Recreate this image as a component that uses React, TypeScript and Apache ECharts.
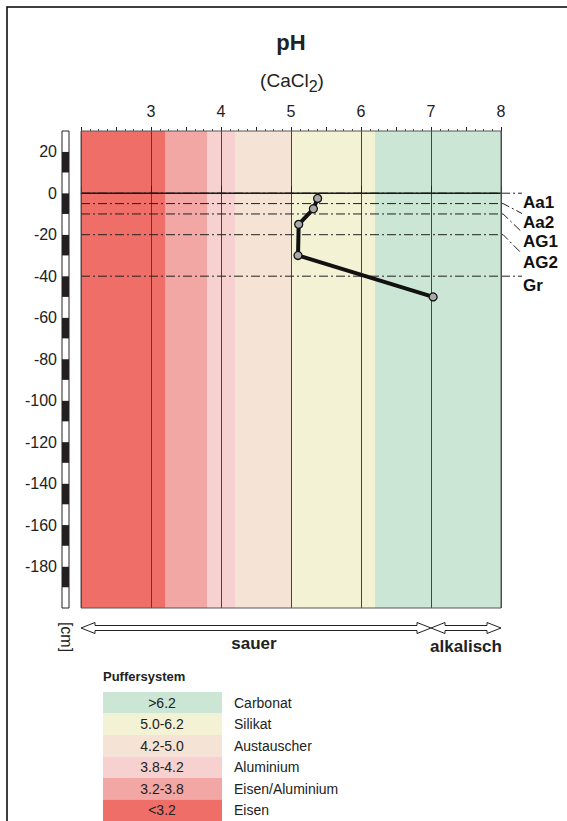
import React, { useEffect, useRef } from "react";
import * as echarts from "echarts";

// pH buffer ranges (Puffersystem)
const bandLo = [2, 3.2, 3.8, 4.2, 5.0, 6.2];
const bandHi = [3.2, 3.8, 4.2, 5.0, 6.2, 8];
const bandRanges = ["<3.2", "3.2-3.8", "3.8-4.2", "4.2-5.0", "5.0-6.2", ">6.2"];
const bandNames = ["Eisen", "Eisen/Aluminium", "Aluminium", "Austauscher", "Silikat", "Carbonat"];
const bandColors = ["#EF6F68", "#F3A7A4", "#F6D1D0", "#F5E4D6", "#F3F2D5", "#CBE6D5"];

// horizons: name, upper boundary depth, label anchor depth
const horizonNames = ["Aa1", "Aa2", "AG1", "AG2", "Gr"];
const horizonTop = [0, -5, -10, -20, -40];
const horizonLabelDepth = [0, -9.8, -18.8, -29.2, -40];

// measured pH profile
const sampleDepth = [-2.5, -7.5, -15, -30, -50];
const samplePH = [5.38, 5.32, 5.11, 5.1, 7.03];

const xTicks = [3, 4, 5, 6, 7, 8];
const FONT = "'Liberation Sans', Arial, Helvetica, sans-serif";

function measure(text: string, size: number): number {
  const c = document.createElement("canvas").getContext("2d");
  if (!c) return text.length * size * 0.55;
  c.font = `${size}px ${FONT}`;
  return c.measureText(text).width;
}

export default function App() {
  const ref = useRef<HTMLDivElement>(null);
  useEffect(() => {
    if (!ref.current) return;
    const chart = echarts.init(ref.current, null, { renderer: "svg" });
    const yMin = -200, yMax = 30, xMin = 2, xMax = 8, xOut = 8.3, xBend = 8.03;

    const dashDot = [9, 3, 2, 3];
    const horizonSeries: any[] = horizonNames.map((n, i) => ({
      type: "line",
      name: "h" + n,
      data: [[xMin, horizonTop[i]], [xMax, horizonTop[i]]],
      symbol: "none",
      z: 4,
      silent: true,
      lineStyle: { color: "#222", width: 1, type: dashDot },
    }));

    chart.setOption({
      animation: false,
      textStyle: { fontFamily: FONT },
      grid: [
        { left: 81, width: 420, top: 131, height: 477, show: true, z: 5, backgroundColor: "transparent", borderColor: "#555", borderWidth: 1 },
        { left: 62, width: 7, top: 131, height: 477, show: true, z: 5, backgroundColor: "transparent", borderColor: "#222", borderWidth: 1 },
      ],
      xAxis: [
        {
          type: "value", gridIndex: 0, position: "top", min: xMin, max: xMax, interval: 1, z: 3,
          axisLine: { show: true, lineStyle: { color: "#444", width: 1 } },
          axisTick: { show: true, length: 7, lineStyle: { color: "#222" } },
          axisLabel: {
            margin: 12, fontSize: 16, color: "#222", fontFamily: FONT,
            formatter: (v: number) => (xTicks.indexOf(v) >= 0 ? String(v) : ""),
          },
          splitLine: { show: true, lineStyle: { color: "#444", width: 1 } },
        },
        {
          type: "value", gridIndex: 0, position: "top", min: xMin, max: xMax, interval: 0.5, z: 3,
          axisLine: { show: false },
          axisTick: { show: true, length: 4, lineStyle: { color: "#222" } },
          minorTick: { show: true, splitNumber: 4, length: 2, lineStyle: { color: "#444" } },
          axisLabel: { show: false },
          splitLine: { show: false },
        },
        { type: "value", gridIndex: 1, min: 0, max: 1, show: false },
      ],
      yAxis: [
        {
          type: "value", gridIndex: 0, min: yMin, max: yMax, interval: 20, z: 3,
          axisLine: { show: false }, axisTick: { show: false }, splitLine: { show: false },
          axisLabel: {
            margin: 24, fontSize: 16, color: "#222", fontFamily: FONT,
            formatter: (v: number) => (v > yMin && v <= 20 ? String(v) : ""),
          },
        },
        {
          type: "value", gridIndex: 1, min: yMin, max: yMax, interval: 10,
          axisLine: { show: false }, axisTick: { show: false }, axisLabel: { show: false },
          splitLine: { show: false },
          splitArea: { show: true, areaStyle: { color: ["#ffffff", "#231F20"] } },
        },
      ],
      series: [
        {
          type: "custom",
          xAxisIndex: 0, yAxisIndex: 0, z: 1, silent: true,
          data: bandLo.map((lo, i) => [lo, bandHi[i], i]),
          encode: { x: [0, 1] },
          renderItem: (params: any, api: any) => {
            const p1 = api.coord([api.value(0), yMax]);
            const p2 = api.coord([api.value(1), yMin]);
            return {
              type: "rect",
              shape: { x: p1[0], y: p1[1], width: p2[0] - p1[0], height: p2[1] - p1[1] },
              style: { fill: bandColors[api.value(2)] },
            };
          },
        },
        ...horizonSeries,
        {
          type: "line", data: [[xMin, 0], [xMax, 0]], symbol: "none", z: 4, silent: true,
          lineStyle: { color: "#111", width: 1.2, type: "solid" },
        },
        {
          type: "scatter", clip: false, z: 6, silent: true,
          data: horizonNames.map((n, i) => ({ value: [xOut, horizonLabelDepth[i]], name: n })),
          symbolSize: 0,
          itemStyle: { opacity: 1 },
          label: {
            show: true, position: "right", distance: 1, offset: [0, 9],
            formatter: (p: any) => p.name, fontSize: 17, fontWeight: "bold", color: "#111", fontFamily: FONT,
          },
        },
        {
          type: "line", z: 10, silent: true,
          data: samplePH.map((p, i) => [p, sampleDepth[i]]),
          symbol: "circle", symbolSize: 8,
          itemStyle: { color: "#aaa", borderColor: "#111", borderWidth: 1.3 },
          lineStyle: { color: "#111", width: 4 },
        },
      ],
    });

    const px = (x: number, y: number) => chart.convertToPixel({ xAxisIndex: 0, yAxisIndex: 0 }, [x, y]) as number[];
    const left = px(xMin, yMin)[0];
    const mid = px(7, yMin)[0];
    const right = px(xMax, yMin)[0];

    const extEls: any[] = horizonNames.map((n, i) => {
      const d = horizonTop[i];
      const e = horizonLabelDepth[i];
      const pts = d === e ? [px(xMax, d), px(xOut, d)] : [px(xMax, d), px(xBend, d), px(xOut, e)];
      return {
        type: "polyline", shape: { points: pts },
        style: { stroke: "#222", lineWidth: 1, fill: null, lineDash: dashDot },
      };
    });

    const yc = 628;
    const arrow = (x0: number, x1: number) => {
      const hl = 14, hh = 5.5, sh = 2.5;
      return {
        type: "polygon",
        shape: {
          points: [
            [x0, yc], [x0 + hl, yc - hh], [x0 + hl, yc - sh], [x1 - hl, yc - sh], [x1 - hl, yc - hh],
            [x1, yc], [x1 - hl, yc + hh], [x1 - hl, yc + sh], [x0 + hl, yc + sh], [x0 + hl, yc + hh],
          ],
        },
        style: { fill: "#fff", stroke: "#222", lineWidth: 1 },
      };
    };

    const legendTop = 692, rowH = 21.5;
    const legendEls: any[] = [];
    const order = bandLo.map((_, i) => i).reverse();
    order.forEach((bi, r) => {
      const y = legendTop + r * rowH;
      legendEls.push({ type: "rect", shape: { x: 103, y, width: 119, height: rowH }, style: { fill: bandColors[bi] } });
      legendEls.push({
        type: "text", x: 162, y: y + rowH / 2,
        style: { text: bandRanges[bi], fontSize: 14, fill: "#222", align: "center", verticalAlign: "middle", fontFamily: FONT },
      });
      legendEls.push({
        type: "text", x: 234, y: y + rowH / 2,
        style: { text: bandNames[bi], fontSize: 14, fill: "#222", align: "left", verticalAlign: "middle", fontFamily: FONT },
      });
    });

    // subtitle (CaCl2) with subscript
    const mainSize = 19, subSize = 16;
    const w1 = measure("(CaCl", mainSize);
    const w2 = measure("2", subSize);
    const w3 = measure(")", mainSize);
    const sx = 292 - (w1 + w2 + w3) / 2;
    const subY = 80;
    const subtitleEls: any[] = [
      { type: "text", x: sx, y: subY, style: { text: "(CaCl", fontSize: mainSize, fill: "#222", align: "left", verticalAlign: "middle", fontFamily: FONT } },
      { type: "text", x: sx + w1, y: subY + 6, style: { text: "2", fontSize: subSize, fill: "#222", align: "left", verticalAlign: "middle", fontFamily: FONT } },
      { type: "text", x: sx + w1 + w2, y: subY, style: { text: ")", fontSize: mainSize, fill: "#222", align: "left", verticalAlign: "middle", fontFamily: FONT } },
    ];

    chart.setOption({
      graphic: [
        { type: "rect", shape: { x: 7, y: 7, width: 620, height: 900 }, style: { fill: "none", stroke: "#000", lineWidth: 1.5 } },
        ...extEls,
        {
          type: "text", x: 291, y: 42,
          style: { text: "pH", fontSize: 22, fontWeight: "bold", fill: "#222", align: "center", verticalAlign: "middle", fontFamily: FONT },
        },
        ...subtitleEls,
        {
          type: "text", x: 97, y: 155,
          style: { text: "Alp", fontSize: 15, fill: "#333", align: "left", verticalAlign: "middle", fontFamily: FONT },
        },
        {
          type: "text", x: 66, y: 637, rotation: -Math.PI / 2,
          style: { text: "[cm]", fontSize: 16, fill: "#222", align: "center", verticalAlign: "middle", fontFamily: FONT },
        },
        arrow(left, mid),
        arrow(mid, right),
        {
          type: "text", x: (left + mid) / 2 - 2, y: 643,
          style: { text: "sauer", fontSize: 17, fontWeight: "bold", fill: "#222", align: "center", verticalAlign: "middle", fontFamily: FONT },
        },
        {
          type: "text", x: (mid + right) / 2, y: 646,
          style: { text: "alkalisch", fontSize: 17, fontWeight: "bold", fill: "#222", align: "center", verticalAlign: "middle", fontFamily: FONT },
        },
        {
          type: "text", x: 103, y: 676,
          style: { text: "Puffersystem", fontSize: 13, fontWeight: "bold", fill: "#222", align: "left", verticalAlign: "middle", fontFamily: FONT },
        },
        ...legendEls,
      ],
    });

    return () => chart.dispose();
  }, []);
  return <div ref={ref} style={{ position: "absolute", left: 0, top: 0, width: 567, height: 821, background: "#fff" }} />;
}
